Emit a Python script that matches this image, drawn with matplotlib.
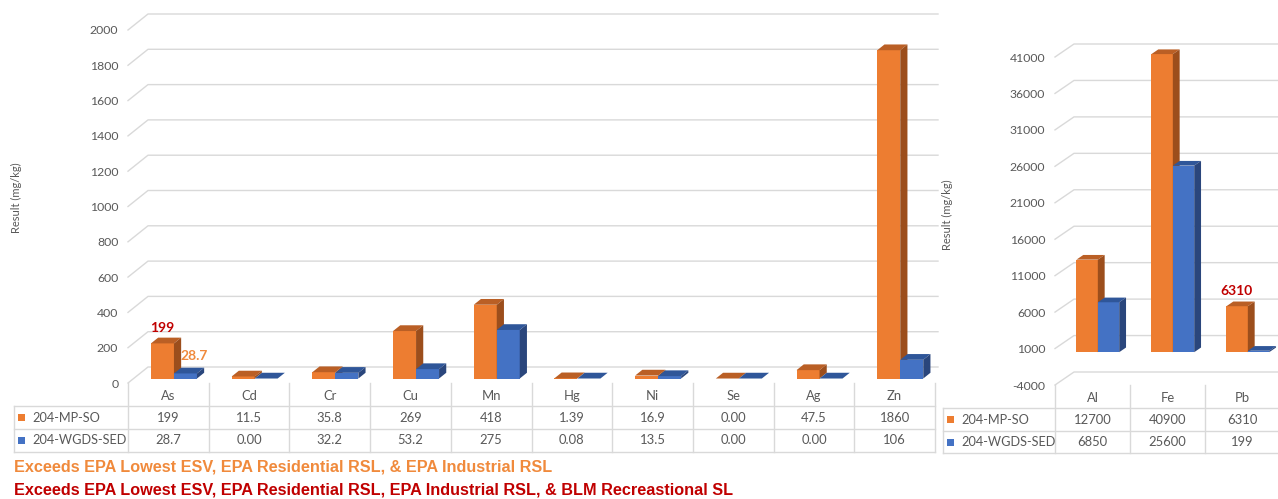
import matplotlib.pyplot as plt
from matplotlib.patches import Polygon, Rectangle
from matplotlib.transforms import Affine2D, blended_transform_factory

W, H, DPI = 1278, 499, 100

# trace metals, 0-2000 mg/kg scale
metals_lo = ["As", "Cd", "Cr", "Cu", "Mn", "Hg", "Ni", "Se", "Ag", "Zn"]
mp_so_lo = [199, 11.5, 35.8, 269, 418, 1.39, 16.9, 0.00, 47.5, 1860]
wgds_lo = [28.7, 0.00, 32.2, 53.2, 275, 0.08, 13.5, 0.00, 0.00, 106]
ticks_lo = list(range(0, 2001, 200))

# major elements on their own scale
metals_hi = ["Al", "Fe", "Pb"]
mp_so_hi = [12700, 40900, 6310]
wgds_hi = [6850, 25600, 199]
ticks_hi = list(range(-4000, 41001, 5000))

series = ["204-MP-SO", "204-WGDS-SED"]
notes = ["Exceeds EPA Lowest ESV, EPA Residential RSL, & EPA Industrial RSL",
         "Exceeds EPA Lowest ESV, EPA Residential RSL, EPA Industrial RSL, & BLM Recreastional SL"]

# front, top, side shades
ORANGE = ("#ED7D31", "#BA5F25", "#9C4E1C")
BLUE = ("#4472C4", "#2F5699", "#2A467C")
GRID = "#D9D9D9"
TXT = "#595959"
LIGHT_RED = "#F08A3C"
DARK_RED = "#C00000"

plt.rcParams['font.family'] = ['Lato', 'DejaVu Sans']
plt.rcParams['axes.unicode_minus'] = False

fig = plt.figure(figsize=(W / DPI, H / DPI), dpi=DPI)
# y measured in pixels from the top edge
pix = Affine2D().scale(1 / DPI, -1 / DPI).translate(0, H / DPI) + fig.dpi_scale_trans


def fmt(v):
    if v == 0:
        return "0.00"
    if v >= 100:
        return "%d" % round(v)
    if v >= 10:
        return "%.1f" % v
    return "%.2f" % v


def panel(cats, s1, s2, ticks, box, depth, back_right, rows, legend_x, ylab_x, ylab_y, labels):
    x0, y0, x1, y1 = box
    n = len(cats)
    ax = fig.add_axes([x0 / W, 1 - y1 / H, (x1 - x0) / W, (y1 - y0) / H])
    ax.set_xlim(-0.5, n - 0.5)
    ax.set_ylim(ticks[0], ticks[-1])
    ax.patch.set_alpha(0)
    for s in ax.spines.values():
        s.set_visible(False)
    ax.set_xticks([])
    ax.set_yticks(ticks)
    ax.tick_params(axis='y', length=0, pad=7, labelsize=8.8, labelcolor=TXT)

    ux = n / (x1 - x0)
    uy = (ticks[-1] - ticks[0]) / (y1 - y0)
    dx, dy = depth[0] * ux, depth[1] * uy
    xr = -0.5 + (back_right - x0) * ux

    # walls: diagonal on the floor side, then along the back wall
    for t in ticks:
        ax.plot([-0.5, -0.5 + dx, xr], [t, t + dy, t + dy], color=GRID, lw=1,
                clip_on=False, zorder=1)

    f0, f1 = 0.28, 0.64
    w = 0.285
    bx, by = (f1 - f0) * dx, (f1 - f0) * dy
    base = f0 * dy
    tops = {}
    for k, (vals, shade) in enumerate(((s1, ORANGE), (s2, BLUE))):
        xs = [i - w + k * w + f0 * dx for i in range(n)]
        bars = ax.bar(xs, vals, width=w, bottom=base, align='edge', color=shade[0],
                      lw=0, zorder=3 + 2 * k, clip_on=False)
        for i, b in enumerate(bars):
            xl, top = b.get_x(), base + vals[i]
            ax.add_patch(Polygon([(xl, top), (xl + w, top), (xl + w + bx, top + by),
                                  (xl + bx, top + by)], closed=True, fc=shade[1],
                                 lw=0, zorder=3 + 2 * k, clip_on=False))
            ax.add_patch(Polygon([(xl + w, base), (xl + w + bx, base + by),
                                  (xl + w + bx, top + by), (xl + w, top)], closed=True,
                                 fc=shade[2], lw=0, zorder=3 + 2 * k, clip_on=False))
            tops[(k, i)] = (xl + w / 2, top)

    for k, i, color, ox, oy in labels:
        vals = (s1, s2)[k]
        ax.annotate(fmt(vals[i]), xy=tops[(k, i)], xytext=(ox * 0.72, oy * 0.72),
                    textcoords='offset points', ha='center', va='center',
                    color=color, fontsize=10, fontweight='bold', zorder=10)

    # data table under the plot
    tr = blended_transform_factory(ax.transData, pix)
    head, r1, r2, bottom = rows
    xleg = -0.5 - (x0 - legend_x) * ux
    for i in range(n + 1):
        ax.plot([i - 0.5, i - 0.5], [head, bottom], color=GRID, lw=1,
                transform=tr, clip_on=False)
    ax.plot([xleg, xleg], [r1, bottom], color=GRID, lw=1, transform=tr, clip_on=False)
    for y in (r1, r2, bottom):
        ax.plot([xleg, n - 0.5], [y, y], color=GRID, lw=1, transform=tr, clip_on=False)
    for i, c in enumerate(cats):
        ax.text(i, (head + r1) / 2 + 1, c, transform=tr, ha='center', va='center',
                fontsize=9.4, color=TXT)
        ax.text(i, (r1 + r2) / 2, fmt(s1[i]), transform=tr, ha='center', va='center',
                fontsize=9.4, color=TXT)
        ax.text(i, (r2 + bottom) / 2, fmt(s2[i]), transform=tr, ha='center', va='center',
                fontsize=9.4, color=TXT)
    for k, (name, shade) in enumerate(zip(series, (ORANGE, BLUE))):
        yc = ((r1 + r2) / 2, (r2 + bottom) / 2)[k]
        fig.patches.append(Rectangle((legend_x + 4, yc - 3.5), 7, 7, fc=shade[0], lw=0,
                                     transform=pix))
        fig.text(legend_x + 18, yc, name, transform=pix, ha='left', va='center',
                 fontsize=9.2, color=TXT)

    fig.text(ylab_x, ylab_y, "Result (mg/kg)", transform=pix, rotation=90,
             ha='center', va='center', fontsize=8, color=TXT)
    return ax


panel(metals_lo, mp_so_lo, wgds_lo, ticks_lo, box=(128, 30, 935, 383), depth=(20, 16),
      back_right=938, rows=(383, 406, 429, 452), legend_x=14, ylab_x=16, ylab_y=198,
      labels=[(0, 0, DARK_RED, 0, 15), (1, 0, LIGHT_RED, 9, 17)])

panel(metals_hi, mp_so_hi, wgds_hi, ticks_hi, box=(1055, 57, 1280, 385), depth=(19, 13),
      back_right=1290, rows=(385, 408, 431, 453), legend_x=943, ylab_x=947, ylab_y=215,
      labels=[(0, 2, DARK_RED, -1, 15)])

for j, (txt, color) in enumerate(zip(notes, (LIGHT_RED, DARK_RED))):
    fig.text(14, 467 + 23 * j, txt, transform=pix, ha='left', va='center',
             fontsize=11.7, fontweight='bold', color=color, family='Liberation Sans')

fig.savefig("out.png", dpi=DPI)
